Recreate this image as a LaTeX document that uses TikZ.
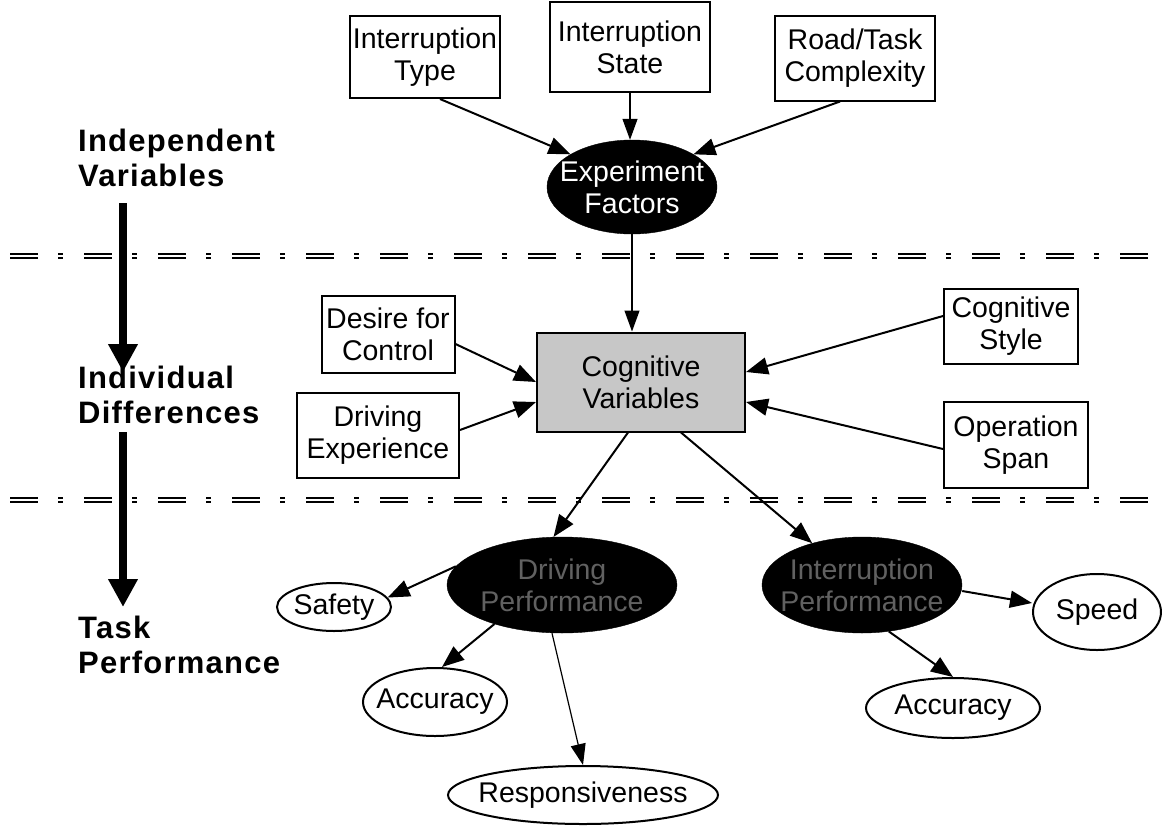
\documentclass[tikz,border=0pt]{standalone}
\usepackage{fontspec}
\setmainfont{Liberation Sans}
\newfontfamily\lblfont[LetterSpace=4]{Liberation Sans}
\usetikzlibrary{arrows.meta,shapes.geometric}
\begin{document}
\begin{tikzpicture}[x=1pt,y=-1pt,
  txt/.style={font=\fontsize{28.5}{32}\selectfont, align=center},
  lbl/.style={font=\lblfont\fontsize{31}{35}\selectfont\bfseries, align=left, anchor=west, inner sep=0pt},
  box/.style={txt, draw, line width=2pt, inner sep=0pt, fill=white},
  graybox/.style={box, fill=black!22},
  oval/.style={ellipse, draw, line width=2pt, inner sep=0pt, fill=white},
  darkoval/.style={ellipse, fill=black, draw=black, inner sep=0pt},
  arr/.style={line width=2pt, -{Triangle[length=22pt,width=17pt]}},
  thinarr/.style={line width=1.2pt, -{Triangle[length=21pt,width=15pt]}},
  bigarr/.style={line width=8pt, -{Triangle[length=28pt,width=28pt]}},
  divider/.style={line width=1.8pt, double=white, double distance=1.6pt,
    dash pattern=on 28pt off 20pt on 5pt off 21pt}
]
\useasboundingbox (0,0) rectangle (1162,828);

% dividers
\coordinate (d1a) at (10,256); \coordinate (d1b) at (1152,256);
\coordinate (d2a) at (10,500); \coordinate (d2b) at (1152,500);
\draw[divider] (d1a) -- (d1b);
\draw[divider] (d2a) -- (d2b);

% left labels
\node[lbl] (iv) at (78,158) {Independent\\Variables};
\node[lbl] (id) at (78,395) {Individual\\Differences};
\node[lbl] (tp) at (78,645) {Task\\Performance};
\coordinate (a1s) at (123,203); \coordinate (a1e) at (123,372);
\coordinate (a2s) at (123,432); \coordinate (a2e) at (123,607);
\draw[bigarr] (a1s) -- (a1e);
\draw[bigarr] (a2s) -- (a2e);

% top boxes
\node[box, minimum width=150pt, minimum height=82pt] (t1) at (425,57) {Interruption\\Type};
\node[box, minimum width=160pt, minimum height=90pt] (t2) at (630,47) {Interruption\\State};
\node[box, minimum width=160pt, minimum height=85pt] (t3) at (855,58) {Road/Task\\Complexity};

\node[darkoval, minimum width=170pt, minimum height=94pt] (ef) at (632,187) {};
\node[txt, text=white] (eft) at (ef.center) {Experiment\\Factors};

% middle
\node[graybox, minimum width=208pt, minimum height=99pt] (cv) at (641,382) {Cognitive\\Variables};
\node[box, minimum width=133pt, minimum height=77pt] (dc) at (388,334) {Desire for\\Control};
\node[box, minimum width=162pt, minimum height=85pt] (de) at (378,435) {Driving\\Experience};
\node[box, minimum width=134pt, minimum height=75pt] (cs) at (1011,326) {Cognitive\\Style};
\node[box, minimum width=144pt, minimum height=86pt] (os) at (1016,445) {Operation\\Span};

% bottom
\node[darkoval, minimum width=230pt, minimum height=96pt] (dp) at (562,585) {};
\node[txt, text=black!62] (dpt) at (dp.center) {Driving\\Performance};
\node[darkoval, minimum width=200pt, minimum height=96pt] (ip) at (862,585) {};
\node[txt, text=black!62] (ipt) at (ip.center) {Interruption\\Performance};
\node[oval, minimum width=114pt, minimum height=48pt] (sa) at (334,607) {};
\node[txt] (sat) at (sa.center) {Safety};
\node[oval, minimum width=144pt, minimum height=68pt] (al) at (435,702) {};
\node[txt] (alt) at (al.center) {Accuracy};
\node[oval, minimum width=270pt, minimum height=58pt] (rs) at (583,795) {};
\node[txt] (rst) at (rs.center) {Responsiveness};
\node[oval, minimum width=128pt, minimum height=76pt] (sp) at (1097,612) {};
\node[txt] (spt) at (sp.center) {Speed};
\node[oval, minimum width=174pt, minimum height=60pt] (ar) at (953,708) {};
\node[txt] (art) at (ar.center) {Accuracy};

% connectors
\draw[arr] ([xshift=15pt]t1.south) -- (ef.152);
\draw[thinarr] (t2.south) -- (t2.south |- ef.north);
\draw[arr] ([xshift=-15pt]t3.south) -- (ef.28);
\draw[thinarr] (ef.south) -- (ef.south |- cv.north);
\draw[arr] ([yshift=-10pt]dc.east) -- (cv.west);
\draw[arr] ([yshift=5pt]de.east) -- ([yshift=-20pt]cv.west);
\draw[arr] ([yshift=10pt]cs.west) -- ([yshift=10pt]cv.east);
\draw[arr] ([yshift=-4pt]os.west) -- ([yshift=-20pt]cv.east);
\draw[arr] ([xshift=-13pt]cv.south) -- (dp.100);
\draw[arr] ([xshift=40pt]cv.south) -- (ip.140);
\draw[arr] (dp.170) -- (sa.10);
\draw[arr] (dp.210) -- ([xshift=7pt]al.north);
\draw[thinarr] ([xshift=-10pt]dp.south) -- (rs.north);
\draw[arr] ([yshift=-6pt]ip.east) -- ([yshift=9pt]sp.west);
\draw[arr] (ip.300) -- (ar.north);
\end{tikzpicture}
\end{document}
